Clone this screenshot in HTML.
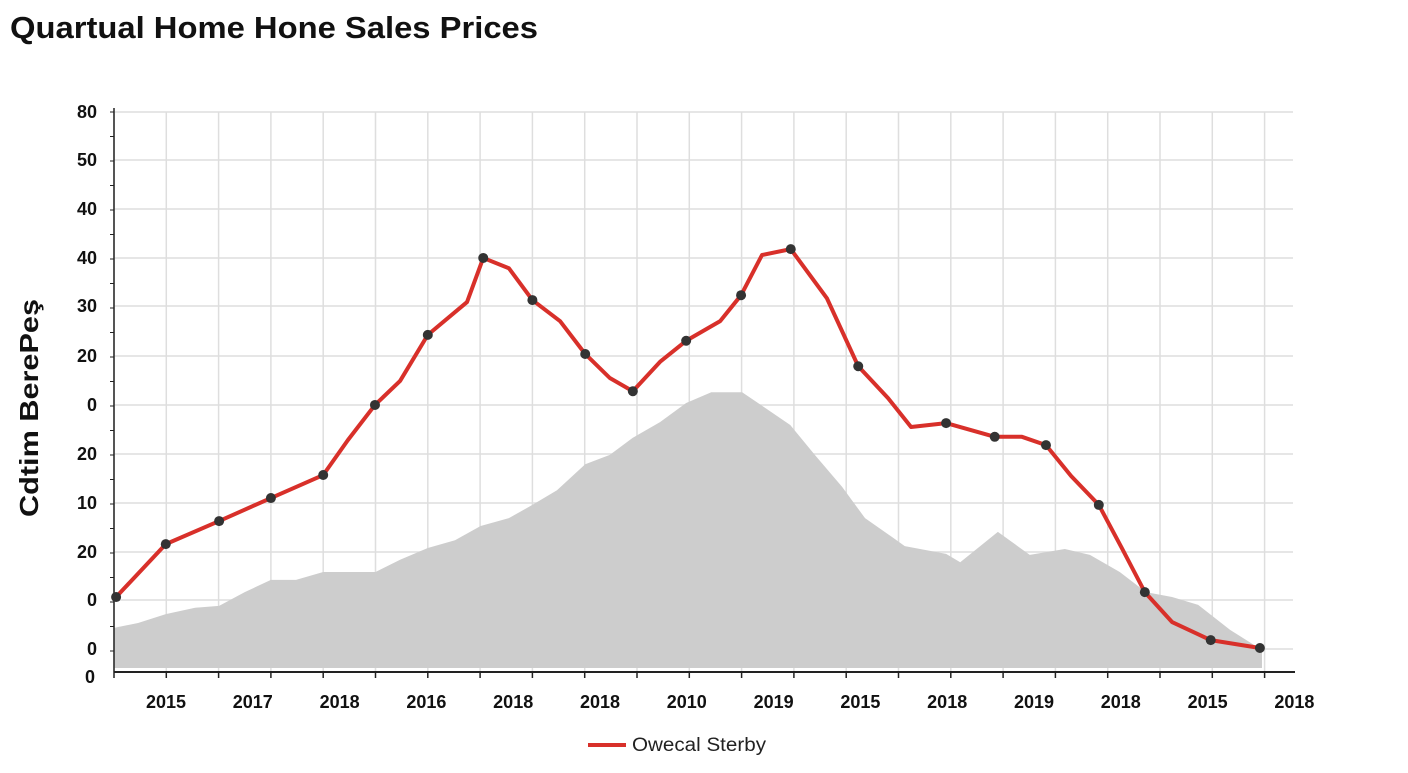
<!DOCTYPE html>
<html><head><meta charset="utf-8"><style>
body{margin:0;background:#fff;width:1408px;height:768px;overflow:hidden;font-family:"Liberation Sans",sans-serif}
</style></head><body>
<svg width="1408" height="768">
<text x="10" y="38" font-size="31" font-weight="bold" fill="#111" textLength="528" lengthAdjust="spacingAndGlyphs">Quartual Home Hone Sales Prices</text>
<g id="grid"></g>
<path id="area" fill="#cdcdcd"/>
<g id="axes"></g>
<path id="line" fill="none" stroke="#d8302a" stroke-width="4" stroke-linejoin="round"/>
<g id="marks"></g>
<text transform="translate(38,408) rotate(-90)" text-anchor="middle" font-size="26" font-weight="bold" fill="#111" textLength="218" lengthAdjust="spacingAndGlyphs">Cdtim BerePeş</text>
<g>
<line x1="588" y1="745" x2="626" y2="745" stroke="#d8302a" stroke-width="4"/>
<text x="632" y="751" font-size="19" fill="#222" textLength="134" lengthAdjust="spacingAndGlyphs">Owecal Sterby</text>
</g>
</svg>
<script>
const yTickLabels=["80","50","40","40","30","20","0","20","10","20","0","0"];
const xTickLabels=["2015","2017","2018","2016","2018","2018","2010","2019","2015","2018","2019","2018","2015","2018"];
const lineX=[0.04,0.99,2.01,3,4,4.47,4.99,5.47,6,6.75,7.06,7.55,8,8.53,9.01,9.48,9.92,10.44,10.94,11.59,11.99,12.39,12.94,13.63,14.23,14.8,15.24,15.91,16.84,17.36,17.82,18.3,18.83,19.27,19.71,20.23,20.97,21.91];
const lineY=[15.3,26.1,30.8,35.5,40.2,47.3,54.5,59.4,68.8,75.5,84.5,82.4,75.9,71.6,64.9,60,57.3,63.3,67.6,71.6,76.9,85.1,86.3,76.3,62.4,55.9,50,50.8,48,48,46.3,40,34.1,25.3,16.3,10.2,6.5,4.9];
const markerIdx=[0,1,2,3,4,6,8,10,12,14,16,18,20,22,24,27,28,30,32,34,36,37];
const areaX=[0,0.46,0.99,1.55,2.01,2.5,3,3.48,4,5,5.47,6,6.52,7.01,7.55,8,8.47,9.01,9.48,9.92,10.44,10.94,11.42,12.01,12.45,12.93,13.4,13.92,14.36,14.91,15.12,15.91,16.18,16.9,17.51,18.18,18.66,19.23,19.73,20.23,20.73,21.34,21.95];
const areaY=[9,10,11.8,13.1,13.5,16.3,18.8,18.8,20.4,20.4,22.9,25.3,26.9,29.8,31.4,34.1,37.1,42.4,44.3,47.8,51,54.9,57.1,57.1,53.9,50.4,44.3,37.8,31.4,27.3,25.7,24.1,22.4,28.6,23.9,25.1,23.9,20.4,16.3,15.3,13.7,8.6,4.5];
const X=v=>114+v*52.3, Y=v=>672-v*4.9;
const NS="http://www.w3.org/2000/svg";
function mk(t,a,p){const e=document.createElementNS(NS,t);for(const k in a)e.setAttribute(k,a[k]);p.appendChild(e);return e;}
const grid=document.getElementById('grid'),axes=document.getElementById('axes'),marks=document.getElementById('marks');
for(let i=0;i<=22;i++){const l=mk('line',{x1:X(i),x2:X(i),y1:112,y2:672,stroke:'#dedede','stroke-width':1.5},grid);

}
const yPos=[112,160,209,258,306,356,405,454,503,552,600,649];
yTickLabels.forEach((t,i)=>{const l=mk('line',{x1:114,x2:1293,y1:yPos[i],y2:yPos[i],stroke:'#dedede','stroke-width':1.5},grid);


const tx=mk('text',{x:97,y:yPos[i]+6,'text-anchor':'end','font-size':18,'font-weight':'bold',fill:'#111'},axes);tx.textContent=t;

});
const z=mk('text',{x:95,y:683,'text-anchor':'end','font-size':18,'font-weight':'bold',fill:'#111'},axes);z.textContent='0';


let d=`M${X(areaX[0])},668`;areaX.forEach((x,i)=>d+=`L${X(x)},${Y(areaY[i])}`);d+=`L${X(areaX[areaX.length-1])},668Z`;
document.getElementById('area').setAttribute('d',d);
mk('line',{x1:114,x2:114,y1:108,y2:672,stroke:'#222','stroke-width':1.5},axes);
mk('line',{x1:114,x2:1295,y1:672,y2:672,stroke:'#222','stroke-width':2},axes);
for(let i=0;i<=22;i++)mk('line',{x1:X(i),x2:X(i),y1:672,y2:678,stroke:'#222','stroke-width':1.5},axes);
for(let y=112;y<672;y+=24.5)mk('line',{x1:110,x2:114,y1:y,y2:y,stroke:'#222','stroke-width':1},axes);
xTickLabels.forEach((t,i)=>{const tx=mk('text',{x:166+i*86.8,y:708,'text-anchor':'middle','font-size':18,'font-weight':'bold',fill:'#111'},axes);tx.textContent=t;

});
document.getElementById('line').setAttribute('d',lineX.map((x,i)=>(i?'L':'M')+X(x)+','+Y(lineY[i])).join(''));
markerIdx.forEach(i=>{const c=mk('circle',{cx:X(lineX[i]),cy:Y(lineY[i]),r:5,fill:'#333'},marks);

});
</script>
</body></html>
